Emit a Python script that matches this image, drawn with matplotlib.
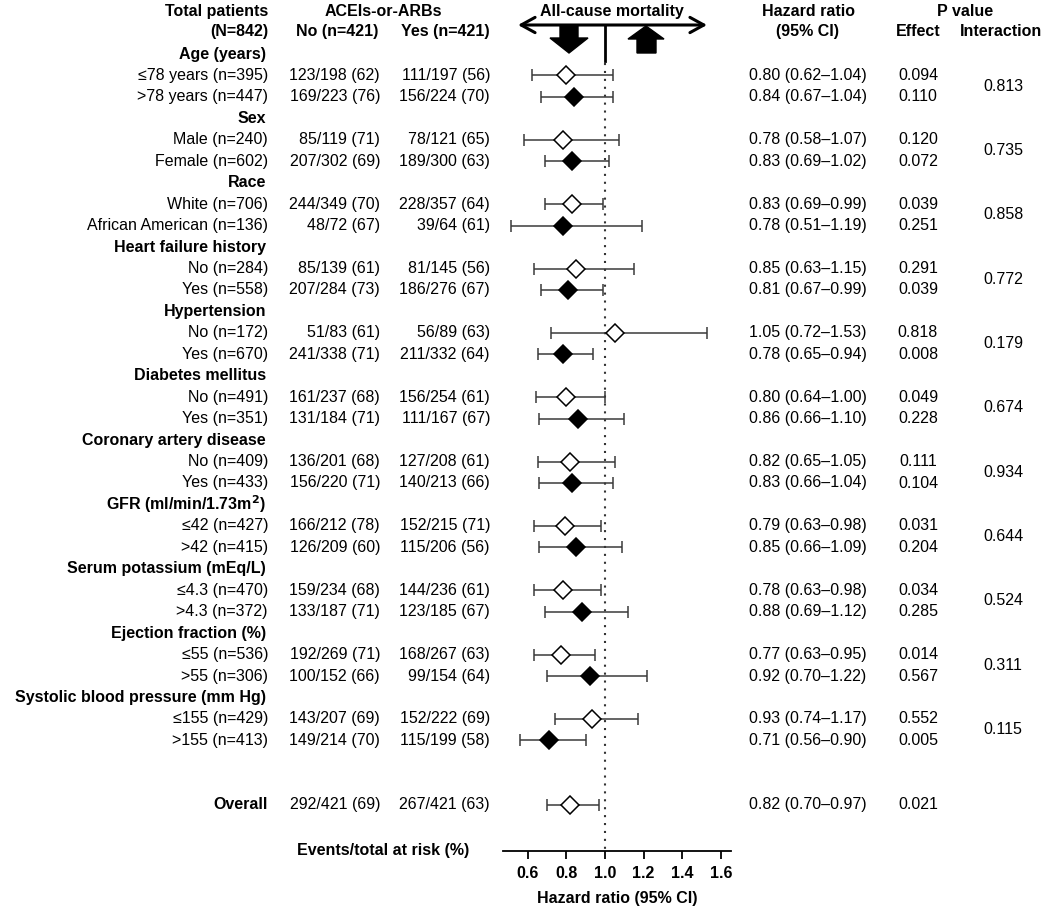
import matplotlib.pyplot as plt
from matplotlib.transforms import Affine2D, blended_transform_factory
from matplotlib.patches import Polygon

plt.rcParams['font.family'] = ['Liberation Sans', 'DejaVu Sans']
FS = 11.5

# Data
groups = ["Age (years)", "Sex", "Race", "Heart failure history", "Hypertension",
          "Diabetes mellitus", "Coronary artery disease", "GFR (ml/min/1.73m$\\mathbf{^2}$)",
          "Serum potassium (mEq/L)", "Ejection fraction (%)",
          "Systolic blood pressure (mm Hg)"]
subgroups = ["\u226478 years (n=395)", ">78 years (n=447)",
             "Male (n=240)", "Female (n=602)",
             "White (n=706)", "African American (n=136)",
             "No (n=284)", "Yes (n=558)",
             "No (n=172)", "Yes (n=670)",
             "No (n=491)", "Yes (n=351)",
             "No (n=409)", "Yes (n=433)",
             "\u226442 (n=427)", ">42 (n=415)",
             "\u22644.3 (n=470)", ">4.3 (n=372)",
             "\u226455 (n=536)", ">55 (n=306)",
             "\u2264155 (n=429)", ">155 (n=413)"]
events_no = ["123/198 (62)", "169/223 (76)", "85/119 (71)", "207/302 (69)",
             "244/349 (70)", "48/72 (67)", "85/139 (61)", "207/284 (73)",
             "51/83 (61)", "241/338 (71)", "161/237 (68)", "131/184 (71)",
             "136/201 (68)", "156/220 (71)", "166/212 (78)", "126/209 (60)",
             "159/234 (68)", "133/187 (71)", "192/269 (71)", "100/152 (66)",
             "143/207 (69)", "149/214 (70)"]
events_yes = ["111/197 (56)", "156/224 (70)", "78/121 (65)", "189/300 (63)",
              "228/357 (64)", "39/64 (61)", "81/145 (56)", "186/276 (67)",
              "56/89 (63)", "211/332 (64)", "156/254 (61)", "111/167 (67)",
              "127/208 (61)", "140/213 (66)", "152/215 (71)", "115/206 (56)",
              "144/236 (61)", "123/185 (67)", "168/267 (63)", "99/154 (64)",
              "152/222 (69)", "115/199 (58)"]
hr = [0.80, 0.84, 0.78, 0.83, 0.83, 0.78, 0.85, 0.81, 1.05, 0.78, 0.80,
      0.86, 0.82, 0.83, 0.79, 0.85, 0.78, 0.88, 0.77, 0.92, 0.93, 0.71]
lo = [0.62, 0.67, 0.58, 0.69, 0.69, 0.51, 0.63, 0.67, 0.72, 0.65, 0.64,
      0.66, 0.65, 0.66, 0.63, 0.66, 0.63, 0.69, 0.63, 0.70, 0.74, 0.56]
hi = [1.04, 1.04, 1.07, 1.02, 0.99, 1.19, 1.15, 0.99, 1.53, 0.94, 1.00,
      1.10, 1.05, 1.04, 0.98, 1.09, 0.98, 1.12, 0.95, 1.22, 1.17, 0.90]
p_effect = ["0.094", "0.110", "0.120", "0.072", "0.039", "0.251", "0.291",
            "0.039", "0.818", "0.008", "0.049", "0.228", "0.111", "0.104",
            "0.031", "0.204", "0.034", "0.285", "0.014", "0.567", "0.552",
            "0.005"]
p_interaction = ["0.813", "0.735", "0.858", "0.772", "0.179", "0.674",
                 "0.934", "0.644", "0.524", "0.311", "0.115"]
overall = {"no": "292/421 (69)", "yes": "267/421 (63)",
           "hr": 0.82, "lo": 0.70, "hi": 0.97, "p": "0.021"}

W, H = 1050, 919
fig = plt.figure(figsize=(W / 100, H / 100), dpi=100)

# forest axes: x in hazard ratio, y in row index
ax = fig.add_axes([503 / W, (H - 851) / H, 228 / W, 851 / H])
row0, step = 54, 21.45
ax.set_xlim(0.471, 1.653)
ax.set_ylim((851 - row0) / step, (0 - row0) / step)
for s in ['top', 'left', 'right']:
    ax.spines[s].set_visible(False)
ax.spines['bottom'].set_linewidth(1.3)
ax.set_yticks([])
ax.set_xticks([0.6, 0.8, 1.0, 1.2, 1.4, 1.6])
ax.set_xticklabels(["0.6", "0.8", "1.0", "1.2", "1.4", "1.6"],
                   fontsize=FS, fontweight='bold')
ax.tick_params(axis='x', direction='out', length=6, width=1.3, pad=5)
ax.set_xlabel("Hazard ratio (95% CI)", fontsize=FS, fontweight='bold',
              labelpad=7)
ax.patch.set_alpha(0)

# x in pixels, y in row index
px_x = Affine2D().scale(1 / W, 1) + fig.transFigure
tr = blended_transform_factory(px_x, ax.transData)

def txt(x, y, s, ha='left', bold=False):
    ax.text(x, y, s, transform=tr, ha=ha, va='center', fontsize=FS,
            fontweight='bold' if bold else 'normal', clip_on=False)

# column headers
txt(268, -1.98, "Total patients", 'right', True)
txt(268, -1.03, "(N=842)", 'right', True)
txt(383, -1.98, "ACEIs-or-ARBs", 'center', True)
txt(378, -1.03, "No (n=421)", 'right', True)
txt(490, -1.03, "Yes (n=421)", 'right', True)
txt(808, -1.98, "Hazard ratio", 'center', True)
txt(808, -1.03, "(95% CI)", 'center', True)
txt(965, -1.98, "P value", 'center', True)
txt(918, -1.03, "Effect", 'center', True)
txt(1001, -1.03, "Interaction", 'center', True)
txt(612, -1.98, "All-cause mortality", 'center', True)

# header arrows (pixel coordinates)
px = Affine2D().scale(1 / W, -1 / H).translate(0, 1) + fig.transFigure
ax.annotate('', xy=(518, 25), xytext=(707, 25), xycoords=px, textcoords=px,
            arrowprops=dict(arrowstyle='<->,head_length=1.0,head_width=0.55',
                            mutation_scale=10, lw=2.2, color='black',
                            shrinkA=0, shrinkB=0))
ax.add_patch(Polygon([(560, 25), (578, 25), (578, 38), (588, 38), (569, 53),
                      (550, 38), (560, 38)], closed=True, transform=px,
                     fc='black', ec='black', clip_on=False))
ax.add_patch(Polygon([(637, 53), (656, 53), (656, 39), (664, 39), (646, 26),
                      (628, 39), (637, 39)], closed=True, transform=px,
                     fc='black', ec='black', clip_on=False))
ax.plot([1.0, 1.0], [(25 - row0) / step, (61 - row0) / step], color='black',
        lw=2.0, clip_on=False)
ax.plot([1.0, 1.0], [(63 - row0) / step, (851 - row0) / step], color='#333333',
        lw=1.5, linestyle=(0, (1, 2.8)), clip_on=False)

# rows
row = 0
for g, grp in enumerate(groups):
    txt(266, row, grp, 'right', True)
    for k in range(2):
        i = 2 * g + k
        y = row + 1 + k
        txt(268, y, subgroups[i], 'right')
        txt(380, y, events_no[i], 'right')
        txt(490, y, events_yes[i], 'right')
        txt(808, y, f"{hr[i]:.2f} ({lo[i]:.2f}\u2013{hi[i]:.2f})", 'center')
        txt(918, y, p_effect[i], 'center')
        ax.errorbar(hr[i], y, xerr=[[hr[i] - lo[i]], [hi[i] - hr[i]]],
                    fmt='none', ecolor='#3a3a3a', elinewidth=1.1, capsize=4.3,
                    capthick=1.1, zorder=2)
        ax.plot(hr[i], y, marker='D', markersize=9.2,
                mfc='white' if k == 0 else 'black', mec='black', mew=1.1,
                zorder=3, clip_on=False)
    txt(1003, row + 1.5, p_interaction[g], 'center')
    row += 3

y_over = row + 2
txt(268, y_over, "Overall", 'right', True)
txt(380, y_over, overall["no"], 'right')
txt(490, y_over, overall["yes"], 'right')
txt(808, y_over, f"{overall['hr']:.2f} ({overall['lo']:.2f}\u2013{overall['hi']:.2f})", 'center')
txt(918, y_over, overall["p"], 'center')
ax.errorbar(overall["hr"], y_over,
            xerr=[[overall["hr"] - overall["lo"]], [overall["hi"] - overall["hr"]]],
            fmt='none', ecolor='#3a3a3a', elinewidth=1.1, capsize=4.3,
            capthick=1.1, zorder=2)
ax.plot(overall["hr"], y_over, marker='D', markersize=9.2, mfc='white',
        mec='black', mew=1.1, zorder=3)

txt(383, (850 - row0) / step, "Events/total at risk (%)", 'center', True)

fig.savefig("out.png", dpi=100)
